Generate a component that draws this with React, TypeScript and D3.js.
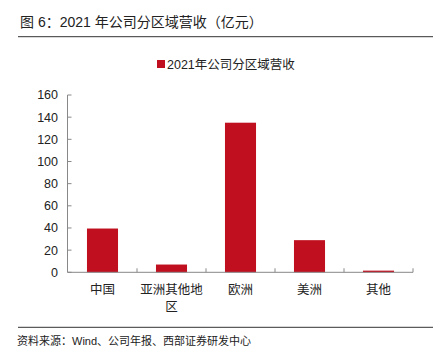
import React from "react";
import * as d3 from "d3";

const categories = ["中国", "亚洲其他地区", "欧洲", "美洲", "其他"];
const values = [39.5, 7, 135, 29, 1.5];
const yTicks = [0, 20, 40, 60, 80, 100, 120, 140, 160];
const seriesName = "2021年公司分区域营收";
const title = "图 6：2021 年公司分区域营收（亿元）";
const source = "资料来源：Wind、公司年报、西部证券研发中心";

const W = 439;
const H = 357;
const RED = "#C00F1E";
const FONT = "'Liberation Sans', 'Noto Sans CJK SC', sans-serif";

export default function App() {
  const x = d3.scaleBand<string>().domain(categories).range([68, 413]).paddingInner(0.55).paddingOuter(0.275);
  const xb = d3.scaleBand<string>().domain(categories).range([68, 413]);
  const y = d3.scaleLinear().domain([0, 160]).range([272.3, 95]);

  const splitLabel = (s: string) => (s.length > 5 ? [s.slice(0, 5), s.slice(5)] : [s]);

  return (
    <svg width={W} height={H} style={{ position: "absolute", left: 0, top: 0, background: "#fff" }} fontFamily={FONT}>
      <text x={20} y={27} fontSize={14} fill="#222">{title}</text>
      <line x1={18} x2={433} y1={36.7} y2={36.7} stroke="#333" strokeWidth={1} />

      <rect x={157} y={60} width={8} height={8} fill={RED} />
      <text x={167} y={68.5} fontSize={12.5} fill="#222">{seriesName}</text>

      {yTicks.map((t) => (
        <g key={t}>
          <line x1={67.5} x2={71.5} y1={y(t)} y2={y(t)} stroke="#888" />
          <text x={58} y={y(t)} dy="0.35em" textAnchor="end" fontSize={12.5} fill="#222">{t}</text>
        </g>
      ))}
      <line x1={67.5} x2={67.5} y1={y(160)} y2={y(0)} stroke="#888" />

      {values.map((v, i) => (
        <rect key={categories[i]} x={x(categories[i])} y={y(v)} width={x.bandwidth()} height={y(0) - y(v)} fill={RED} />
      ))}

      <line x1={67.5} x2={413} y1={y(0)} y2={y(0)} stroke="#888" />
      {categories.map((c) => (
        <line key={c} x1={(xb(c) as number) + xb.bandwidth()} x2={(xb(c) as number) + xb.bandwidth()} y1={y(0)} y2={y(0) - 4} stroke="#888" />
      ))}

      {categories.map((c) => (
        <text key={c} x={(xb(c) as number) + xb.bandwidth() / 2} y={294} textAnchor="middle" fontSize={12.5} fill="#222">
          {splitLabel(c).map((line, j) => (
            <tspan key={j} x={(xb(c) as number) + xb.bandwidth() / 2} dy={j === 0 ? 0 : 17}>{line}</tspan>
          ))}
        </text>
      ))}

      <line x1={18} x2={433} y1={327.3} y2={327.3} stroke="#333" strokeWidth={1} />
      <text x={17} y={345} fontSize={11} fill="#222">{source}</text>
    </svg>
  );
}
